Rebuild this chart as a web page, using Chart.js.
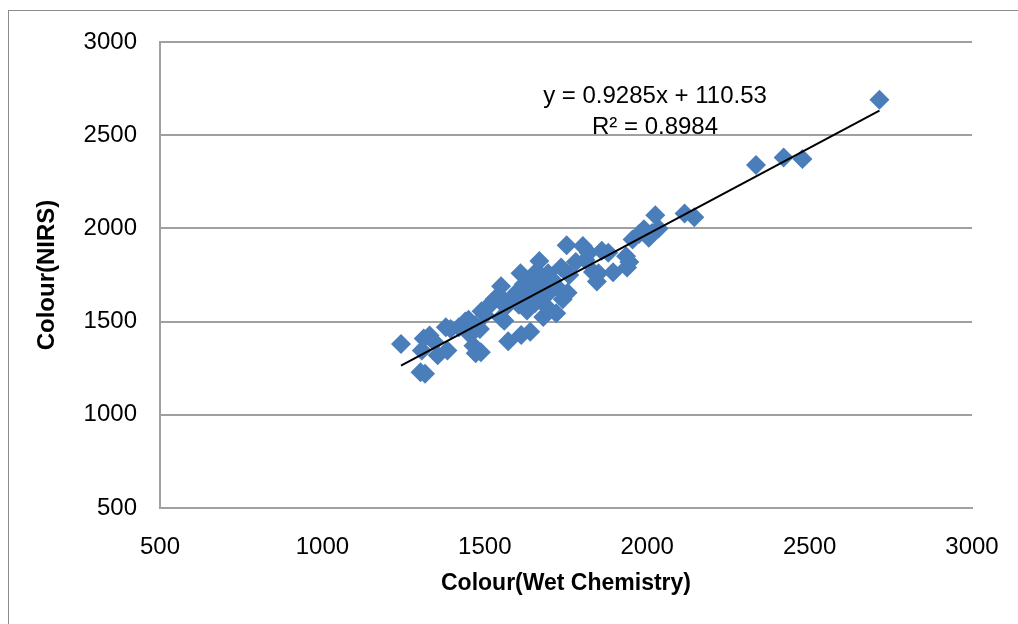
<!DOCTYPE html>
<html>
<head>
<meta charset="utf-8">
<script src="https://cdn.jsdelivr.net/npm/chart.js@4/dist/chart.umd.min.js"></script>
<style>
  html, body { margin: 0; padding: 0; background: #fff; overflow: hidden; }
  #wrap { position: relative; width: 1018px; height: 624px; }
  #frame { position: absolute; left: 8px; top: 10px; width: 1100px; height: 700px; border: 1.5px solid #8c8c8c; box-sizing: border-box; }
  canvas { position: absolute; left: 0; top: 0; }
</style>
</head>
<body>
<div id="wrap">
  <div id="frame"></div>
  <canvas id="c" width="1018" height="624"></canvas>
</div>
<script>
// ---- data ----
const wetChemistry = [
  1242, 1302, 1316, 1306, 1312, 1330, 1345, 1355, 1380, 1385,
  1395, 1420, 1440, 1450, 1455, 1465, 1470, 1472, 1488, 1485,
  1490, 1500, 1510, 1520, 1530, 1550, 1545, 1550, 1560, 1565,
  1572, 1580, 1590, 1600, 1605, 1610, 1612, 1620, 1625, 1630,
  1640, 1645, 1650, 1655, 1660, 1668, 1670, 1680, 1685, 1690,
  1695, 1700, 1710, 1720, 1725, 1735, 1740, 1752, 1755, 1760,
  1780, 1802, 1810, 1820, 1833, 1845, 1850, 1860, 1880, 1895,
  1935, 1938, 1945, 1955, 1975, 1990, 2005, 2015, 2025, 2035,
  2115, 2145, 2335, 2420, 2478, 2715
];
const nirs = [
  1380, 1228, 1220, 1345, 1410, 1425, 1390, 1320, 1470, 1345,
  1460, 1470, 1500, 1510, 1430, 1370, 1480, 1330, 1335, 1460,
  1555, 1535, 1580, 1600, 1620, 1690, 1640, 1520, 1505, 1580,
  1395, 1610, 1640, 1660, 1590, 1760, 1428, 1700, 1620, 1560,
  1445, 1680, 1740, 1600, 1770, 1825, 1640, 1525, 1700, 1580,
  1760, 1660, 1720, 1545, 1680, 1790, 1620, 1910, 1655, 1750,
  1820, 1905, 1830, 1870, 1766, 1715, 1760, 1880, 1870, 1765,
  1850, 1790, 1820, 1940, 1970, 1995, 1950, 1975, 2070, 2000,
  2080, 2060, 2340, 2380, 2372, 2690
];
const trendSlope = 0.9285;
const trendIntercept = 110.53;
const equationLines = ['y = 0.9285x + 110.53', 'R\u00B2 = 0.8984'];
const xTicks = [500, 1000, 1500, 2000, 2500, 3000];
const yTicks = [500, 1000, 1500, 2000, 2500, 3000];
const xTitle = 'Colour(Wet Chemistry)';
const yTitle = 'Colour(NIRS)';

// ---- build datasets ----
const points = wetChemistry.map((x, i) => ({ x: x, y: nirs[i] }));
const xMin = Math.min(...wetChemistry), xMax = Math.max(...wetChemistry);
const trend = [xMin, xMax].map(x => ({ x: x, y: trendSlope * x + trendIntercept }));

const equationPlugin = {
  id: 'equation',
  afterDatasetsDraw(chart) {
    const ctx = chart.ctx;
    ctx.save();
    ctx.fillStyle = '#000';
    ctx.font = '24px "Liberation Sans", Arial, sans-serif';
    ctx.textAlign = 'center';
    ctx.textBaseline = 'middle';
    ctx.fillText(equationLines[0], 655, 96);
    ctx.fillText(equationLines[1], 655, 127);
    ctx.restore();
  }
};

const tickFont = { family: '"Liberation Sans", Arial, sans-serif', size: 24 };
const gridColor = '#a0a0a0';

new Chart(document.getElementById('c'), {
  type: 'scatter',
  data: {
    datasets: [
      {
        label: 'Colour',
        data: points,
        pointStyle: 'rectRot',
        pointRadius: 10,
        pointHoverRadius: 10,
        backgroundColor: '#4A7EBB',
        borderColor: '#4A7EBB',
        borderWidth: 0,
        order: 2
      },
      {
        type: 'line',
        label: 'Trend',
        data: trend,
        borderColor: '#000',
        borderWidth: 2,
        pointRadius: 0,
        fill: false,
        order: 1
      }
    ]
  },
  options: {
    responsive: false,
    animation: false,
    events: [],
    layout: { padding: { left: 0, top: 42, right: 46, bottom: 0 } },
    plugins: { legend: { display: false }, tooltip: { enabled: false } },
    scales: {
      x: {
        type: 'linear',
        min: 500, max: 3000,
        afterBuildTicks(scale) { scale.ticks = xTicks.map(v => ({ value: v })); },
        afterFit(scale) { scale.height = 624 - 508; scale.paddingLeft = 0; scale.paddingRight = 0; },
        grid: { display: false, drawTicks: false },
        border: { display: true, color: gridColor, width: 2 },
        ticks: { color: '#000', font: tickFont, padding: 25, maxRotation: 0, callback: v => String(v) },
        title: { display: true, text: xTitle, color: '#000',
                 font: { family: '"Liberation Sans", Arial, sans-serif', size: 23, weight: 'bold' },
                 padding: { top: 0, bottom: 27 } }
      },
      y: {
        type: 'linear',
        min: 500, max: 3000,
        afterBuildTicks(scale) { scale.ticks = yTicks.map(v => ({ value: v })); },
        afterFit(scale) { scale.width = 160; scale.paddingTop = 0; scale.paddingBottom = 0; },
        grid: { display: true, color: gridColor, lineWidth: 2, drawTicks: false },
        border: { display: true, color: gridColor, width: 2 },
        ticks: { color: '#000', font: tickFont, padding: 23, callback: v => String(v) },
        title: { display: true, text: yTitle, color: '#000',
                 font: { family: '"Liberation Sans", Arial, sans-serif', size: 24, weight: 'bold' },
                 padding: { top: 33, bottom: 0 } }
      }
    }
  },
  plugins: [equationPlugin]
});
</script>
</body>
</html>
